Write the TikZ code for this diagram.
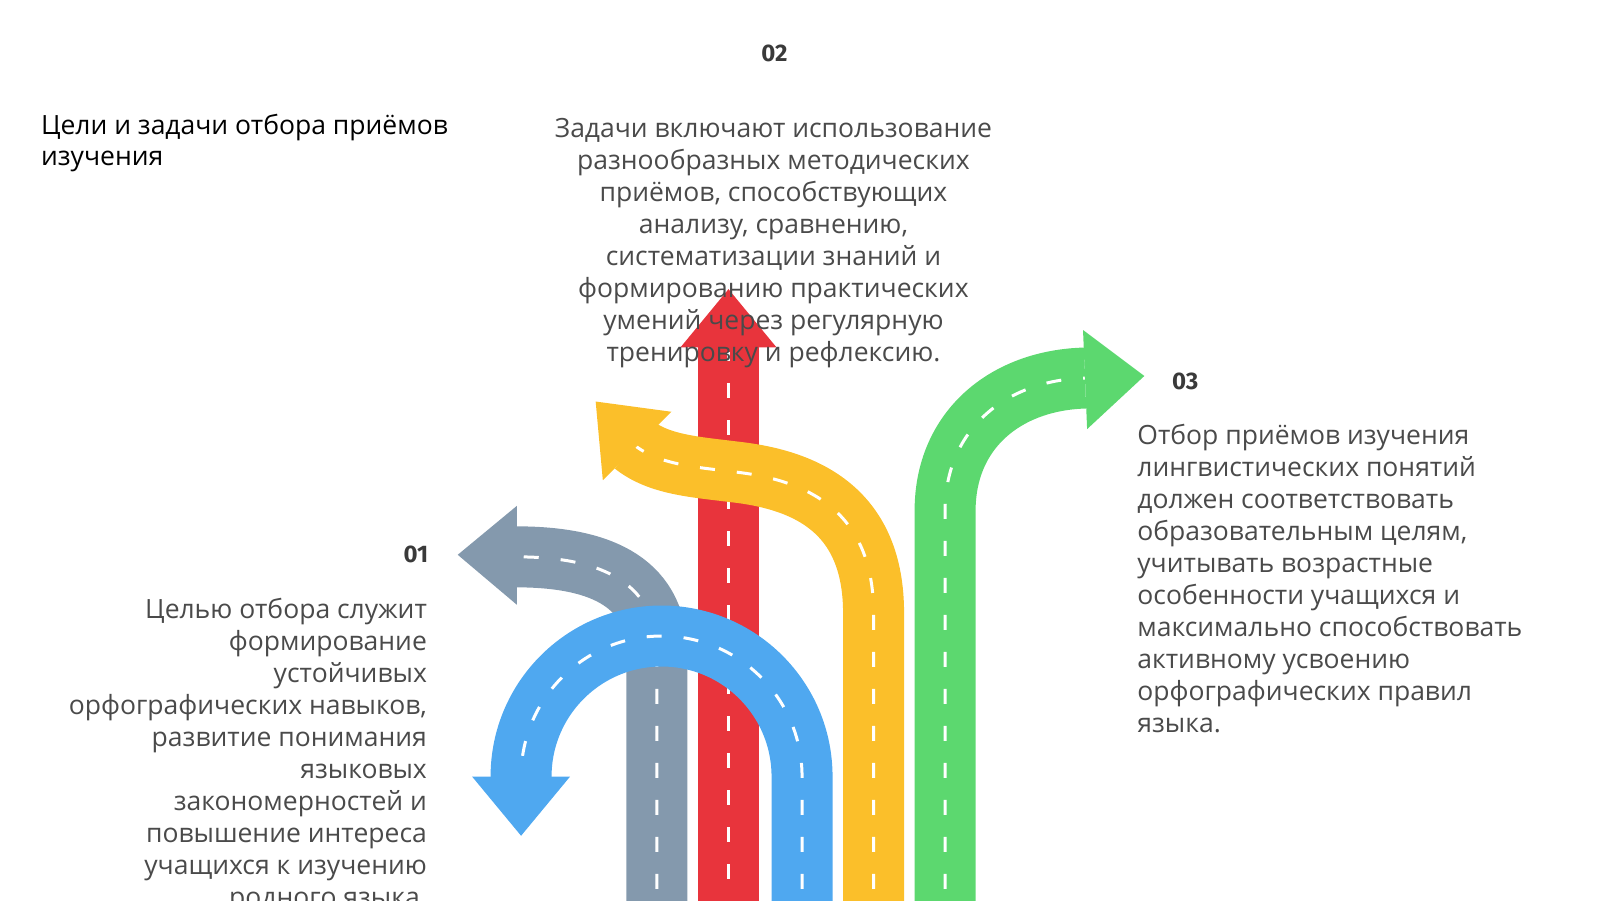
\documentclass[tikz,border=0pt]{standalone}
\usepackage{fontspec}
\setmainfont{Open Sans}
\newfontfamily\numfont{Fira Sans}
\begin{document}
\begin{tikzpicture}[x=1.0217pt,y=-1.0217pt,
  road/.style={line width=61pt},
  lane/.style={white,line width=3pt,dash pattern=on 15pt off 22pt},
  body/.style={text=txt,font=\fontsize{26.5}{32}\selectfont,inner sep=0pt},
  num/.style={text=numc,font=\numfont\bfseries\fontsize{24}{28}\selectfont,inner sep=0pt}]
\definecolor{cgray}{HTML}{8499AD}
\definecolor{cred}{HTML}{E8343C}
\definecolor{cyel}{HTML}{FBBF2A}
\definecolor{cgreen}{HTML}{5CD86F}
\definecolor{cblue}{HTML}{4FA8F0}
\definecolor{txt}{HTML}{4A4A4A}
\definecolor{numc}{HTML}{3A3A3A}
\useasboundingbox (0,0) rectangle (1566,881);
\clip (0,0) rectangle (1566,882);
% red
\draw[road,cred] (713,900) -- (713,338);
\draw[lane] (713,860) -- (713,345);
\fill[cred] (666,340) -- (713,283) -- (760,340) -- cycle;
% gray
\draw[road,cgray] (643,900) -- (643,640) .. controls (643,565) and (580,545) .. (505,545);
\draw[lane] (643,870) -- (643,640) .. controls (643,565) and (580,545) .. (505,545);
\fill[cgray] (506,495) -- (448,543) -- (506,592) -- cycle;
% yellow
\draw[road,cyel] (855,900) -- (855,600) .. controls (855,500) and (790,470) .. (720,462) .. controls (680,457) and (645,455) .. (620,435);
\draw[lane] (855,870) -- (855,600) .. controls (855,500) and (790,470) .. (720,462) .. controls (680,457) and (645,455) .. (620,435);
\fill[cyel] (590,470) -- (583,393) -- (657,403) -- cycle;
% green
\draw[road,cgreen] (925,900) -- (925,500) .. controls (925,420) and (985,372) .. (1062,370);
\draw[lane] (925,870) -- (925,500) .. controls (925,420) and (985,372) .. (1062,370);
\fill[cgreen] (1060,323) -- (1120,368) -- (1064,420) -- cycle;
% blue
\draw[road,cblue] (785,900) -- (785,760) arc[start angle=0,end angle=-180,radius=137.5] -- (510,762);
\draw[lane] (785,870) -- (785,760) arc[start angle=0,end angle=-180,radius=137.5] -- (510,762);
\fill[cblue] (462,760) -- (510,818) -- (558,760) -- cycle;
% texts
\node[anchor=north west,inner sep=0pt,font=\fontsize{26.5}{31}\selectfont,align=left] (title) at (40,112) {Цели и задачи отбора приёмов\\изучения};
\node[num] (n2) at (758,52) {02};
\node[num] (n1) at (407,543) {01};
\node[num] (n3) at (1160,373) {03};
\node[body,anchor=north,align=center] (t2) at (757,116) {Задачи включают использование\\разнообразных методических\\приёмов, способствующих\\анализу, сравнению,\\систематизации знаний и\\формированию практических\\умений через регулярную\\тренировку и рефлексию.};
\node[body,anchor=north east,align=right] (t1) at (418,585) {Целью отбора служит\\формирование\\устойчивых\\орфографических навыков,\\развитие понимания\\языковых\\закономерностей и\\повышение интереса\\учащихся к изучению\\родного языка.};
\node[body,anchor=north west,align=left] (t3) at (1113,415) {Отбор приёмов изучения\\лингвистических понятий\\должен соответствовать\\образовательным целям,\\учитывать возрастные\\особенности учащихся и\\максимально способствовать\\активному усвоению\\орфографических правил\\языка.};
\end{tikzpicture}
\end{document}
